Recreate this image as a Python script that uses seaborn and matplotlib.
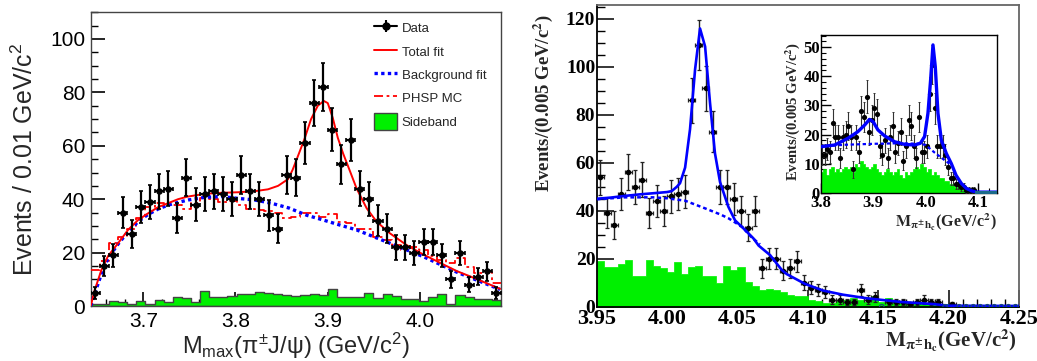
import numpy as np
import pandas as pd
import matplotlib
matplotlib.use("Agg")
import matplotlib.pyplot as plt
import seaborn as sns
from matplotlib.lines import Line2D
from matplotlib.patches import Patch
from matplotlib.ticker import MultipleLocator

# ---------------- left panel data ----------------
left_bin_start = 3.643
left_bin_width = 0.00989
left_counts = [5, 15, 19, 35, 27, 37, 39, 43, 44, 33,
               48, 38, 42, 43, 42, 40, 49, 43, 40, 34,
               29, 49, 48, 61, 76, 82, 66, 53, 62, 44,
               40, 32, 29, 22, 22, 20, 24, 24, 19, 10,
               20, 8, 11, 13, 5]
left_sideband = [0.75, 0.75, 2, 1.5, 0.75, 2, 0.9, 2.2, 1.6, 3.2,
                 2.9, 1.6, 5.6, 3.5, 3.5, 3.9, 4.5, 4.5, 5.4, 5,
                 4.4, 4.1, 3.7, 4.1, 4.4, 4.1, 6.2, 3.2, 3.5, 3.5,
                 5, 2.9, 4.5, 3.7, 2.5, 2.6, 1.9, 3.5, 4.5, 0.75,
                 4.1, 3.2, 2.5, 2.5, 2.2]
left_phsp = [13.5, 17, 23.5, 26, 29, 33, 37, 38.5, 38, 38,
             36.5, 38.5, 40.5, 40, 39, 39.5, 38, 36.5, 36, 35.5,
             35, 33, 33.5, 34.7, 35, 33.5, 34.5, 31.6, 31, 29,
             29, 25.7, 24.7, 22.8, 21, 22, 21, 18.7, 17.2, 16,
             17.8, 14.7, 12.2, 12.9, 8.5]
left_total_x = [3.643, 3.6474, 3.6546, 3.6618, 3.6727, 3.6835, 3.6944, 3.7052, 3.716,
                3.7269, 3.7377, 3.7486, 3.7667, 3.7848, 3.8028, 3.8209, 3.8353, 3.8462,
                3.857, 3.862, 3.8676, 3.8748, 3.882, 3.8893, 3.8958, 3.9001, 3.9055,
                3.911, 3.9169, 3.9242, 3.9314, 3.9423, 3.9531, 3.9676, 3.9857, 4.0037,
                4.0218, 4.0399, 4.058, 4.0761, 4.087]
left_total_y = [0, 6, 13.5, 18.7, 23.5, 28.5, 32.2, 34.7, 37,
                38.5, 40, 41, 42, 42.4, 42.6, 43, 43.7, 45,
                47.5, 51, 56, 62.5, 70, 75, 76.8, 76, 70.5,
                63, 57, 50.5, 44, 36.6, 31.6, 27.2, 22.8, 19.3,
                16.2, 13.1, 10.6, 8.0, 6.4]
left_bkg_x = [3.643, 3.6474, 3.6546, 3.6618, 3.6727, 3.6835, 3.6944, 3.7052, 3.716,
              3.7269, 3.7377, 3.7486, 3.7667, 3.7848, 3.8028, 3.8209, 3.8389, 3.858,
              3.8772, 3.8953, 3.9134, 3.9314, 3.9495, 3.9676, 3.9857, 4.0037, 4.0218,
              4.0399, 4.058, 4.0761, 4.087]
left_bkg_y = [0, 4.7, 12, 17.9, 23.2, 27.8, 31.6, 34.3, 36.3,
              37.8, 38.8, 39.7, 40.7, 41, 40.3, 39.7, 38.5, 36.7,
              34, 32.2, 30.3, 28.5, 26, 23.5, 21, 18.5, 15.6,
              12.7, 10.2, 7.7, 6.2]
left_xticks = [3.7, 3.8, 3.9, 4.0]
left_xticklabels = ["3.7", "3.8", "3.9", "4.0"]
left_yticks = [0, 20, 40, 60, 80, 100]
left_yticklabels = ["0", "20", "40", "60", "80", "100"]
legend_labels = ["Data", "Total fit", "Background fit", "PHSP MC", "Sideband"]

# ---------------- right panel data ----------------
right_bin_start = 3.95
right_bin_width = 0.005
right_counts = [54, 39, 34, 47, 56, 50, 53, 39, 44, 40,
                46, 47, 48, 86, 109, 91, 73, 50, 50, 45,
                40, 33, 40, 16, 20, 20, 15, 16, 19, 10,
                8, 7, 6, 3, 3, 2, 2, 7, 3, 4,
                0, 2, 2, 2, 1, 2, 3, 2, 2, 0,
                1, 0, 0, 0, 0, 0, 0, 0, 0, 0]
right_sideband = [19, 16.5, 16.5, 18, 19.5, 13, 13, 19.5, 17, 16,
                  14.5, 18.5, 13.5, 16.5, 17, 13, 13, 10, 17, 15.5,
                  16.5, 10.5, 8.5, 7, 7.5, 7, 6, 5, 4.5, 4.5,
                  3, 2.5, 1.5, 1.5, 3, 3, 3.5, 3, 2, 4.5,
                  2, 3.5, 2, 1.5, 1.5, 1, 1.5, 1.5, 1, 1,
                  0.5, 0, 0, 0, 0, 0, 0, 0, 0, 0]
right_fit_x = [3.95, 3.96, 3.97, 3.98, 3.99, 4.0, 4.0033, 4.0069, 4.0092, 4.0128,
               4.0163, 4.0199, 4.0234, 4.027, 4.0305, 4.034, 4.0376, 4.0435, 4.0483,
               4.0554, 4.0613, 4.065, 4.0732, 4.0815, 4.085, 4.098, 4.111, 4.125,
               4.142, 4.1656, 4.189, 4.20, 4.25]
right_fit_y = [45, 45.5, 46.2, 46.8, 47.3, 47.8, 48.2, 50, 51.5, 58,
               74, 99, 116, 108.5, 85, 64, 52, 41.7, 36,
               32, 28.5, 25.5, 21.5, 15.3, 13.6, 9.5, 6.7, 5,
               3.5, 2, 1.1, 0.4, 0.3]
right_bkg_x = [3.95, 3.97, 3.99, 4.0, 4.0128, 4.027, 4.0377, 4.0435, 4.053, 4.060, 4.066]
right_bkg_y = [44.8, 45.6, 45.6, 45.2, 44.2, 41, 38.5, 36.9, 33.4, 29, 26]
right_xticks = [3.95, 4.00, 4.05, 4.10, 4.15, 4.20, 4.25]
right_xticklabels = ["3.95", "4.00", "4.05", "4.10", "4.15", "4.20", "4.25"]
right_yticks = [0, 20, 40, 60, 80, 100, 120]
right_yticklabels = ["0", "20", "40", "60", "80", "100", "120"]

# ---------------- inset data ----------------
inset_bin_start = 3.80
inset_bin_width = 0.005
inset_counts = [13, 13, 15, 14, 24, 19, 19, 12, 19, 20,
                23, 19, 8, 19, 14, 28, 26, 33, 21, 25,
                29, 27, 16, 13, 18, 12, 19, 23, 14, 17,
                21, 11, 16, 25, 23, 16, 12, 26, 14, 14,
                16, 34, 44, 29, 16, 16, 16, 13, 9, 5,
                5, 3, 3, 2, 2, 1, 1, 1, 1, 0,
                0, 0, 0, 0, 0, 0, 0]
inset_sideband = [7, 8, 6, 8, 9, 7, 8, 7, 8, 9,
                  8, 9, 7, 10, 9, 11, 10, 9, 8, 9,
                  10, 8, 7, 6, 7, 8, 7, 6, 7, 8,
                  6, 5, 7, 6, 7, 8, 9, 8, 10, 9,
                  7, 8, 6, 7, 6, 5, 5, 4, 4, 3,
                  3, 2, 2, 2, 1, 1, 1, 0, 0, 0,
                  0, 0, 0, 0, 0, 0, 0]
inset_fit_x = [3.8, 3.8267, 3.852, 3.871, 3.884, 3.893, 3.9, 3.909, 3.922, 3.941,
               3.96, 3.979, 3.99, 3.998, 4.0044, 4.0095, 4.014, 4.0184, 4.0235, 4.03,
               4.0394, 4.049, 4.058, 4.068, 4.0775, 4.087, 4.0965, 4.136]
inset_fit_y = [15.8, 16.4, 18.7, 21, 23.3, 25.2, 24.4, 21.6, 19.5, 17.5,
               16.6, 16.4, 17, 19.3, 27.3, 38.8, 50.8, 43.3, 27.3, 18,
               13.5, 10, 6, 3.2, 1.5, 0.7, 0.2, 0.2]
inset_bkg_x = [3.8, 3.85, 3.9, 3.95, 3.99, 4.0, 4.017, 4.036, 4.049]
inset_bkg_y = [16, 16.5, 16.8, 17, 16.8, 16.4, 13.8, 11.2, 9.5]
inset_xticks = [3.8, 3.9, 4.0, 4.1]
inset_xticklabels = ["3.8", "3.9", "4.0", "4.1"]
inset_yticks = [0, 10, 20, 30, 40, 50]
inset_yticklabels = ["0", "10", "20", "30", "40", "50"]

# ---------------- style ----------------
sns.set_theme(style="white")
plt.rcParams.update({
    "font.family": ["Liberation Sans", "DejaVu Sans"],
    "mathtext.fontset": "custom",
    "mathtext.rm": "Liberation Sans",
    "mathtext.it": "Liberation Sans:italic",
    "mathtext.bf": "Liberation Sans:bold",
    "axes.linewidth": 1.0,
})
GREEN = "#00f000"
SERIF = ["Liberation Serif", "DejaVu Serif"]

W, H = 1037, 361
fig = plt.figure(figsize=(W / 100, H / 100), dpi=100)


def ax_px(x0, y0, x1, y1):
    return fig.add_axes([x0 / W, 1 - y1 / H, (x1 - x0) / W, (y1 - y0) / H])


def hist(ax, start, width, values, **kws):
    n = len(values)
    edges = [start + width * i for i in range(n + 1)]
    df = pd.DataFrame({"x": [start + width * (i + 0.5) for i in range(n)],
                       "w": [float(v) for v in values]})
    sns.histplot(data=df, x="x", weights="w", bins=edges, element="step", ax=ax, **kws)


axL = ax_px(90.7, 12.3, 501, 306)
axR = ax_px(596.7, 5, 1019, 306.7)
axI = ax_px(820.7, 35, 997.3, 192.7)

# ================= LEFT =================
nL = len(left_counts)
centersL = left_bin_start + left_bin_width * (np.arange(nL) + 0.5)
hist(axL, left_bin_start, left_bin_width, left_sideband, fill=True, color=GREEN, alpha=1,
     edgecolor="#444444", linewidth=1.0, zorder=1)
hist(axL, left_bin_start, left_bin_width, left_phsp, fill=False, color="#ff0000",
     linewidth=1.3, linestyle=(0, (5, 2, 1.5, 2)), zorder=3)
sns.lineplot(x=left_bkg_x, y=left_bkg_y, color="#0000ff", linewidth=2.4,
             linestyle=(0, (1, 1)), ax=axL, zorder=4, sort=False)
sns.lineplot(x=left_total_x, y=left_total_y, color="#ff0000", linewidth=1.4,
             ax=axL, zorder=5, sort=False)
yl = np.array(left_counts, float)
axL.errorbar(centersL, yl, yerr=np.sqrt(yl), xerr=left_bin_width / 2, fmt="none",
             ecolor="black", elinewidth=1.6, capsize=1.5, capthick=1.2, zorder=6)
sns.scatterplot(x=centersL, y=yl, color="black", s=22, linewidth=0, ax=axL, zorder=7)

axL.set_xlabel("")
axL.set_ylabel("")
axL.set_xlim(3.643, 4.088)
axL.set_ylim(0, 110)
axL.set_xticks(left_xticks, left_xticklabels, fontsize=15)
axL.set_yticks(left_yticks, left_yticklabels, fontsize=15)
axL.xaxis.set_minor_locator(MultipleLocator(0.02))
axL.yaxis.set_minor_locator(MultipleLocator(5))
axL.tick_params(which="both", direction="in", top=False, right=False, bottom=True,
                left=True, colors="black")
axL.tick_params(which="major", length=10, width=1.2)
axL.tick_params(which="minor", length=5, width=1)
axL.tick_params(axis="y", pad=4)
axL.tick_params(axis="x", pad=4)
for s in axL.spines.values():
    s.set_color("#444444")
    s.set_linewidth(1.0)

fig.text(25 / W, 1 - 159 / H, "Events / 0.01 GeV/c$^{2}$", rotation=90, ha="center",
         va="center", fontsize=18, math_fontfamily="custom")
fig.text(296 / W, 1 - 354 / H, r"M$_{\mathrm{max}}$(π$^{\pm}$J/ψ) (GeV/c$^{2}$)",
         ha="center", va="baseline", fontsize=17, math_fontfamily="custom")

data_handle = (Line2D([], [], color="black", marker="o", ms=5, lw=1.5),
               Line2D([], [], color="black", marker="|", ms=9, mew=1.5, lw=0))
handles = [data_handle,
           Line2D([], [], color="#ff0000", lw=1.4),
           Line2D([], [], color="#0000ff", lw=2.4, ls=(0, (1, 1))),
           Line2D([], [], color="#ff0000", lw=1.3, ls=(0, (5, 2, 1.5, 2))),
           Patch(facecolor=GREEN, edgecolor="#444444", lw=1)]
fig.legend(handles, legend_labels, loc="upper left", bbox_to_anchor=(374 / W, 1 - 20 / H),
           frameon=False, fontsize=9.5, handlelength=1.75, handleheight=1.5,
           handletextpad=0.35, labelspacing=0.55, borderpad=0, borderaxespad=0)

# ================= RIGHT =================
nR = len(right_counts)
centersR = right_bin_start + right_bin_width * (np.arange(nR) + 0.5)
hist(axR, right_bin_start, right_bin_width, right_sideband, fill=True, color=GREEN, alpha=1,
     edgecolor=GREEN, linewidth=0.5, zorder=1)
yr = np.array(right_counts, float)
nz = yr > 0
axR.errorbar(centersR[nz], yr[nz], yerr=np.sqrt(yr[nz]), xerr=right_bin_width / 2, fmt="none",
             ecolor="#222222", elinewidth=1.0, capsize=1.3, capthick=0.9, zorder=3)
sns.scatterplot(x=centersR[nz], y=yr[nz], color="black", s=16, linewidth=0, ax=axR, zorder=4)
sns.lineplot(x=right_bkg_x, y=right_bkg_y, color="#0000ff", linewidth=1.8,
             linestyle=(0, (1.5, 1.2)), ax=axR, zorder=5, sort=False)
sns.lineplot(x=right_fit_x, y=right_fit_y, color="#0000ff", linewidth=1.9,
             ax=axR, zorder=6, sort=False)
sns.scatterplot(x=centersR[~nz], y=yr[~nz], marker="o", s=10, facecolor="none",
                edgecolor="#1a4a7a", linewidth=0.9, ax=axR, zorder=7)

axR.set_xlabel("")
axR.set_ylabel("")
axR.set_xlim(3.95, 4.25)
axR.set_ylim(0, 125.8)
axR.set_xticks(right_xticks, right_xticklabels, fontfamily=SERIF, fontweight="bold", fontsize=16)
axR.set_yticks(right_yticks, right_yticklabels, fontfamily=SERIF, fontweight="bold", fontsize=14)
axR.xaxis.set_minor_locator(MultipleLocator(0.01))
axR.yaxis.set_minor_locator(MultipleLocator(5))
axR.tick_params(which="both", direction="in", top=False, right=False, bottom=True,
                left=True, colors="black")
axR.tick_params(which="major", length=12, width=1.1)
axR.tick_params(which="minor", length=6, width=1)
axR.tick_params(axis="y", pad=1)
axR.tick_params(axis="x", pad=2)
for side in ("left", "bottom"):
    axR.spines[side].set_color("black")
    axR.spines[side].set_linewidth(1.3)
for side in ("top", "right"):
    axR.spines[side].set_color("#666666")
    axR.spines[side].set_linewidth(1.3)

fig.text(543 / W, 1 - 103 / H, r"Events/(0.005 GeV/c$^{\mathbf{2}}$)", rotation=90,
         ha="center", va="center", fontsize=13.5, fontfamily=SERIF, fontweight="bold",
         math_fontfamily="stix")
fig.text(1017 / W, 1 - 347 / H, r"$\mathbf{M_{\pi^{\pm}h_{c}}}$(GeV/c$^{\mathbf{2}}$)",
         ha="right", va="baseline", fontsize=15, fontfamily=SERIF, fontweight="bold",
         math_fontfamily="stix")

# ================= INSET =================
axI.set_facecolor("white")
nI = len(inset_counts)
centersI = inset_bin_start + inset_bin_width * (np.arange(nI) + 0.5)
hist(axI, inset_bin_start, inset_bin_width, inset_sideband, fill=True, color=GREEN, alpha=1,
     edgecolor=GREEN, linewidth=0.5, zorder=1)
yi = np.array(inset_counts, float)
nzi = yi > 0
axI.errorbar(centersI[nzi], yi[nzi], yerr=np.sqrt(yi[nzi]), fmt="none",
             ecolor="#333333", elinewidth=0.8, capsize=1.0, capthick=0.7, zorder=3)
sns.scatterplot(x=centersI[nzi], y=yi[nzi], color="black", s=14, linewidth=0, ax=axI, zorder=4)
sns.lineplot(x=inset_bkg_x, y=inset_bkg_y, color="#0000ff", linewidth=1.6,
             linestyle=(0, (1.5, 1.2)), ax=axI, zorder=5, sort=False)
sns.lineplot(x=inset_fit_x, y=inset_fit_y, color="#0000ff", linewidth=2.4,
             ax=axI, zorder=6, sort=False)
sns.scatterplot(x=centersI[~nzi], y=yi[~nzi], marker="s", s=8, color="#1a6a8a",
                linewidth=0, ax=axI, zorder=7)

axI.set_xlabel("")
axI.set_ylabel("")
axI.set_xlim(3.8, 4.1366)
axI.set_ylim(0, 54.2)
axI.set_xticks(inset_xticks, inset_xticklabels, fontfamily=SERIF, fontweight="bold", fontsize=12)
axI.set_yticks(inset_yticks, inset_yticklabels, fontfamily=SERIF, fontweight="bold", fontsize=12)
axI.xaxis.set_minor_locator(MultipleLocator(0.02))
axI.yaxis.set_minor_locator(MultipleLocator(2))
axI.tick_params(which="both", direction="in", top=False, right=False, bottom=True,
                left=True, colors="black")
axI.tick_params(which="major", length=7, width=1)
axI.tick_params(which="minor", length=3.5, width=0.8)
axI.tick_params(axis="y", pad=0.5)
axI.tick_params(axis="x", pad=1.5)
for s in axI.spines.values():
    s.set_color("black")
    s.set_linewidth(1.0)

fig.text(793 / W, 1 - 111 / H, r"Events/(0.005 GeV/c$^{\mathbf{2}}$)", rotation=90,
         ha="center", va="center", fontsize=10.5, fontfamily=SERIF, fontweight="bold",
         math_fontfamily="stix")
fig.text(997 / W, 1 - 227 / H, r"$\mathbf{M_{\pi^{\pm}h_{c}}}$(GeV/c$^{\mathbf{2}}$)",
         ha="right", va="baseline", fontsize=11.5, fontfamily=SERIF, fontweight="bold",
         math_fontfamily="stix")

fig.savefig("out.png", dpi=100)
